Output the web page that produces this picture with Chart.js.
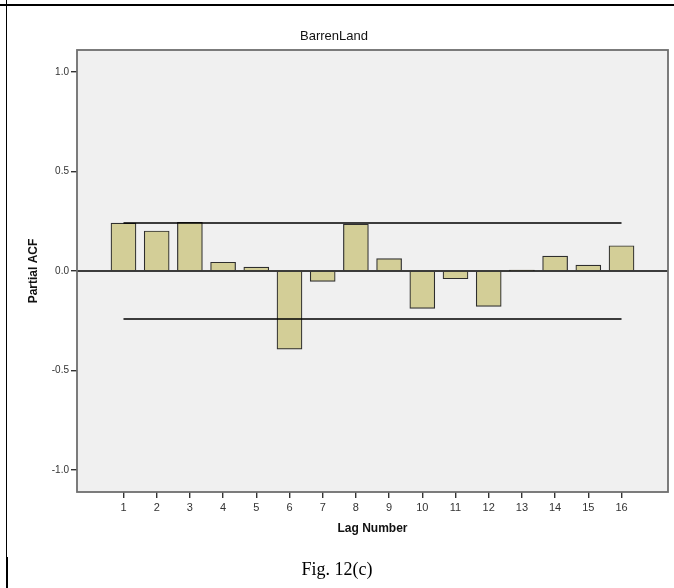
<!DOCTYPE html>
<html>
<head>
<meta charset="utf-8">
<script src="https://cdn.jsdelivr.net/npm/chart.js@4/dist/chart.umd.min.js"></script>
<style>
  html, body { margin: 0; padding: 0; background: #ffffff; }
  #wrap { position: relative; width: 674px; height: 588px; overflow: hidden; }
  #c { position: absolute; left: 0; top: 0; }
  .rule { position: absolute; background: #000; }
  #caption { position: absolute; left: 0; width: 674px; top: 558px; text-align: center;
             font-family: "Liberation Serif", "DejaVu Serif", serif; font-size: 18px; color: #000; line-height: 22px; }
</style>
</head>
<body>
<div id="wrap">
  <canvas id="c" width="674" height="588"></canvas>
  <div class="rule" style="left:0; top:4px; width:674px; height:2px;"></div>
  <div class="rule" style="left:6px; top:0; width:1px; height:588px;"></div>
  <div class="rule" style="left:6px; top:557px; width:2px; height:31px;"></div>
  <div id="caption">Fig. 12(c)</div>
</div>
<script>
// ---- data ----
const chartTitle = "BarrenLand";
const lags = [1, 2, 3, 4, 5, 6, 7, 8, 9, 10, 11, 12, 13, 14, 15, 16];
const partialACF = [0.241, 0.201, 0.245, 0.044, 0.020, -0.392, -0.052, 0.235, 0.062, -0.188, -0.039, -0.178, 0.005, 0.075, 0.030, 0.127];
const upperLimit = 0.241;
const lowerLimit = -0.241;
const yTicks = [-1.0, -0.5, 0.0, 0.5, 1.0];
const xTicks = lags;
const xRange = [-0.4, 17.4];
const yRange = [-1.11, 1.11];

const barData = lags.map((l, i) => ({ x: l, y: partialACF[i] }));
const upperData = [{ x: lags[0], y: upperLimit }, { x: lags[lags.length - 1], y: upperLimit }];
const lowerData = [{ x: lags[0], y: lowerLimit }, { x: lags[lags.length - 1], y: lowerLimit }];
const zeroData = [{ x: xRange[0], y: 0 }, { x: xRange[1], y: 0 }];

const plotAreaPlugin = {
  id: 'plotArea',
  beforeDatasetsDraw(chart) {
    const { ctx, chartArea: a } = chart;
    ctx.save();
    ctx.fillStyle = '#f0f0f0';
    ctx.fillRect(a.left, a.top, a.right - a.left, a.bottom - a.top);
    ctx.restore();
  },
  afterDraw(chart) {
    const { ctx, chartArea: a } = chart;
    ctx.save();
    ctx.strokeStyle = '#6e6e6e';
    ctx.lineWidth = 1.8;
    ctx.strokeRect(a.left, a.top, a.right - a.left, a.bottom - a.top);
    ctx.restore();
  }
};

const lineStyle = { type: 'line', borderColor: '#000000', borderWidth: 1.4, pointRadius: 0, fill: false, order: 0, tension: 0 };

new Chart(document.getElementById('c'), {
  type: 'bar',
  data: {
    datasets: [
      { label: 'Partial ACF', data: barData, backgroundColor: '#d3ce97', borderColor: '#2e2e2e', borderWidth: 1.2, barThickness: 25, order: 1 },
      Object.assign({ label: 'zero', data: zeroData }, lineStyle),
      Object.assign({ label: 'upper', data: upperData }, lineStyle),
      Object.assign({ label: 'lower', data: lowerData }, lineStyle)
    ]
  },
  options: {
    responsive: false,
    animation: false,
    devicePixelRatio: 1,
    layout: { padding: { left: 0, right: 6, top: 0, bottom: 0 } },
    plugins: {
      legend: { display: false },
      tooltip: { enabled: false },
      title: {
        display: true, text: chartTitle, color: '#111',
        font: { family: 'Liberation Sans', size: 13, weight: 'normal' },
        padding: { top: 29, bottom: 5.4 }
      }
    },
    scales: {
      x: {
        type: 'linear', min: xRange[0], max: xRange[1], offset: false,
        afterBuildTicks(s) { s.ticks = xTicks.map(v => ({ value: v })); },
        afterFit(s) { s.height = 96; },
        border: { display: false },
        grid: { offset: false, drawOnChartArea: false, drawTicks: true, tickLength: 6, color: '#333', lineWidth: 1.4 },
        ticks: { color: '#333', font: { family: 'Liberation Sans', size: 11 }, padding: 3, maxRotation: 0, autoSkip: false },
        title: { display: true, text: 'Lag Number', color: '#111', font: { family: 'Liberation Sans', size: 12, weight: 'bold' }, padding: { top: 0, bottom: 52 } }
      },
      y: {
        type: 'linear', min: yRange[0], max: yRange[1],
        afterBuildTicks(s) { s.ticks = yTicks.map(v => ({ value: v })); },
        afterFit(s) { s.width = 77; },
        border: { display: false },
        grid: { drawOnChartArea: false, drawTicks: true, tickLength: 6, color: '#333', lineWidth: 1.4 },
        ticks: { color: '#333', font: { family: 'Liberation Sans', size: 10 }, padding: 2, callback: v => Number(v).toFixed(1) },
        title: { display: true, text: 'Partial ACF', color: '#111', font: { family: 'Liberation Sans', size: 12, weight: 'bold' }, padding: { top: 26, bottom: 0 } }
      }
    }
  },
  plugins: [plotAreaPlugin]
});
</script>
</body>
</html>
